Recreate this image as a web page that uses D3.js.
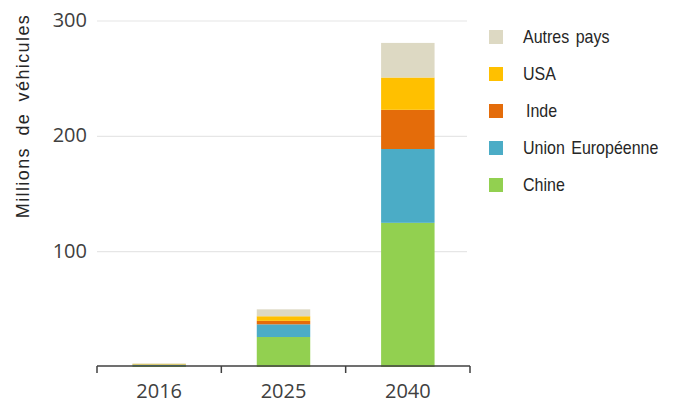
<!DOCTYPE html>
<html>
<head>
<meta charset="utf-8">
<script src="https://cdn.jsdelivr.net/npm/d3@7"></script>
<style>
  body { margin: 0; background: #fff; }
  svg { display: block; }
</style>
</head>
<body>
<div id="chart"></div>
<script>
//Données
var years = ["2016", "2025", "2040"];
var series = ["Chine", "Union Européenne", "Inde", "USA", "Autres pays"];
var chine = [0.9, 26, 125];
var ue = [1.2, 11, 64];
var inde = [0.1, 3, 34];
var usa = [0.5, 4, 28];
var autres = [0.4, 6, 30];
var yTicks = [100, 200, 300];
var colors = ["#92d050", "#4bacc6", "#e46c0a", "#ffc000", "#ddd9c3"];

(function () {
	'use strict';
	var W = 689, H = 405;
	var margin = {top: 21, right: 219, bottom: 38, left: 97};
	var width = W - margin.left - margin.right;
	var height = H - margin.top - margin.bottom;

	var values = [chine, ue, inde, usa, autres];
	var rows = years.map(function (y, i) {
		var r = {year: y};
		series.forEach(function (s, j) { r[s] = values[j][i]; });
		return r;
	});
	var stack = d3.stack().keys(series)(rows);

	var svg = d3.select("#chart").append("svg")
		.attr("width", W)
		.attr("height", H);
	var g = svg.append("g")
		.attr("transform", "translate(" + margin.left + "," + margin.top + ")");

	var x = d3.scaleBand().domain(years).range([0, width]).paddingInner(0.57).paddingOuter(0.285);
	var y = d3.scaleLinear().domain([0, 300]).range([height, 0]);

	//Lignes de grille
	g.selectAll(".grid").data(yTicks).enter().append("line")
		.attr("x1", 0).attr("x2", width - 3)
		.attr("y1", function (d) { return y(d); })
		.attr("y2", function (d) { return y(d); })
		.attr("stroke", "#e6e6e6").attr("stroke-width", 1.2);

	//Étiquettes Y
	g.selectAll(".ylab").data(yTicks).enter().append("text")
		.attr("x", -10)
		.attr("y", function (d) { return y(d); })
		.attr("dy", "0.3em")
		.attr("text-anchor", "end")
		.attr("font-family", "Open Sans, sans-serif")
		.attr("font-size", 20)
		.attr("fill", "#404040")
		.text(function (d) { return d; });

	//Barres
	g.selectAll(".serie").data(stack).enter().append("g")
		.attr("fill", function (d, i) { return colors[i]; })
		.selectAll("rect").data(function (d) { return d; }).enter().append("rect")
		.attr("x", function (d) { return x(d.data.year); })
		.attr("width", x.bandwidth())
		.attr("y", function (d) { return y(d[1]); })
		.attr("height", function (d) { return y(d[0]) - y(d[1]); });

	//Axe X
	var xAxis = g.append("g")
		.attr("transform", "translate(0," + (height - 1) + ")");
	xAxis.append("line")
		.attr("x1", 0).attr("x2", width)
		.attr("stroke", "#404040").attr("stroke-width", 1.5);
	var bounds = [0].concat(years.map(function (d) { return x(d) + x.bandwidth() + x.step() * 0.285; }));
	xAxis.selectAll(".tick").data(bounds).enter().append("line")
		.attr("x1", function (d) { return d; }).attr("x2", function (d) { return d; })
		.attr("y1", 0).attr("y2", 7)
		.attr("stroke", "#404040").attr("stroke-width", 1.5);
	xAxis.selectAll(".xlab").data(years).enter().append("text")
		.attr("x", function (d) { return x(d) + x.bandwidth() / 2; })
		.attr("y", 32)
		.attr("text-anchor", "middle")
		.attr("font-family", "Open Sans, sans-serif")
		.attr("font-size", 20)
		.attr("fill", "#404040")
		.text(function (d) { return d; });

	//Titre Y
	svg.append("text")
		.attr("transform", "translate(29,116) rotate(-90)")
		.attr("text-anchor", "middle")
		.attr("font-family", "Liberation Sans, Arial, sans-serif")
		.attr("font-size", 18)
		.attr("letter-spacing", 1.4)
		.attr("word-spacing", 5)
		.attr("fill", "#262626")
		.text("Millions de véhicules");

	//Légende
	var legend = svg.append("g").attr("transform", "translate(489,30)");
	var order = series.slice().reverse();
	var item = legend.selectAll(".item").data(order).enter().append("g")
		.attr("transform", function (d, i) { return "translate(0," + (i * 37) + ")"; });
	item.append("rect")
		.attr("width", 14).attr("height", 14)
		.attr("fill", function (d) { return colors[series.indexOf(d)]; });
	item.append("text")
		.attr("transform", function (d) { return "translate(" + (d === "Inde" ? 37 : 34) + ",7) scale(1,1.15)"; })
		.attr("dy", "0.35em")
		.attr("font-family", "Liberation Sans, Arial, sans-serif")
		.attr("font-size", 16)
		.attr("word-spacing", 2)
		.attr("fill", "#262626")
		.text(function (d) { return d; });
}());
</script>
</body>
</html>
